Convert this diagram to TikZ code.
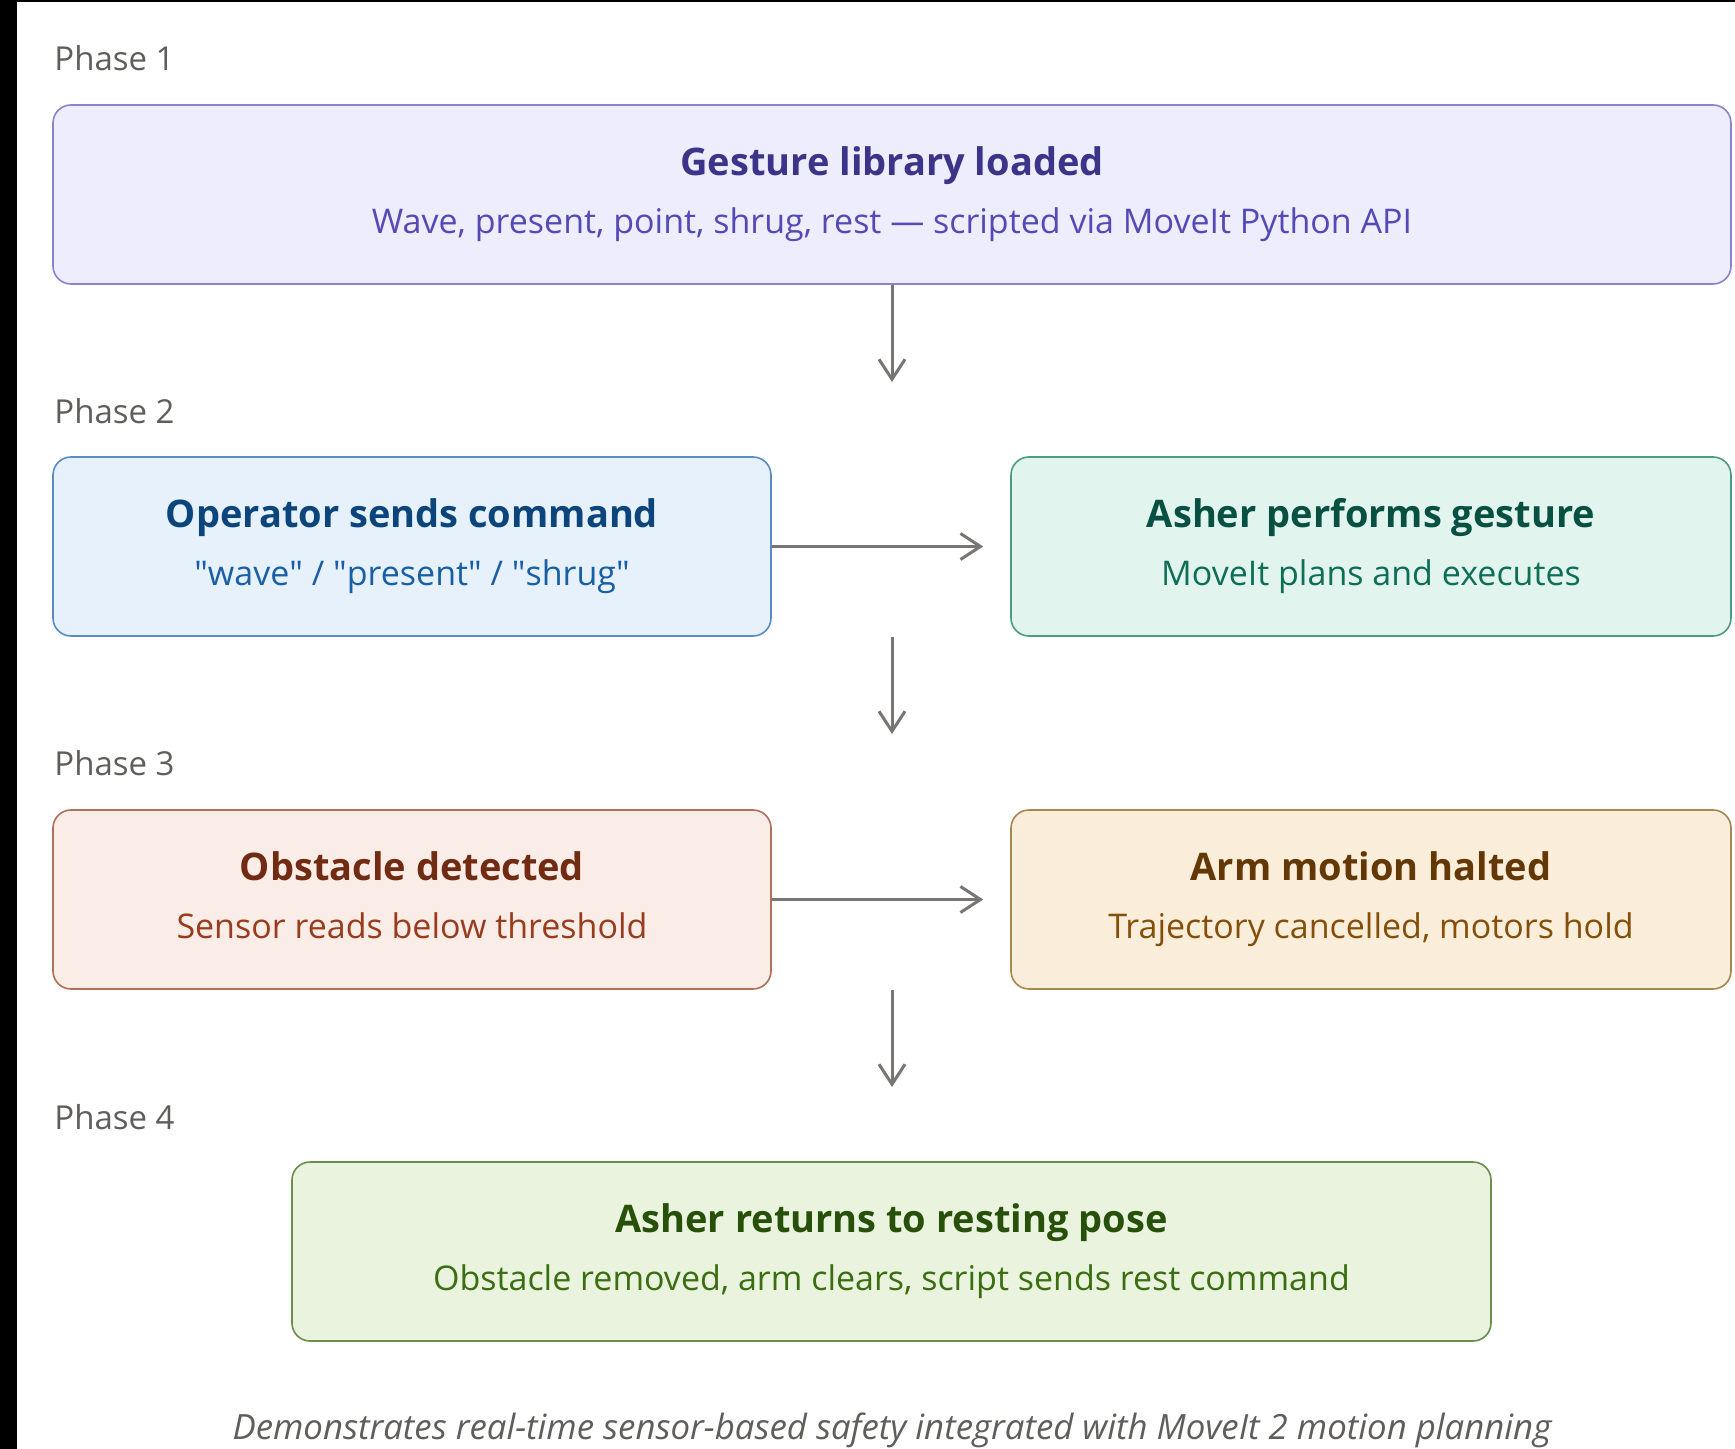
\documentclass[tikz,border=0pt]{standalone}
\usepackage{fontspec}
\setmainfont{Open Sans}
\usetikzlibrary{arrows.meta,positioning}
\usepackage{xcolor}

\definecolor{phasegrey}{HTML}{5F5E5A}
\definecolor{arrowgrey}{HTML}{777672}
\definecolor{gestfill}{HTML}{EEEDFE}
\definecolor{gestline}{HTML}{8A84CF}
\definecolor{gesttitle}{HTML}{3C3489}
\definecolor{gestsub}{HTML}{534AB7}
\definecolor{opfill}{HTML}{E6F1FB}
\definecolor{opline}{HTML}{5A8CC4}
\definecolor{optitle}{HTML}{0C447C}
\definecolor{opsub}{HTML}{185FA5}
\definecolor{perffill}{HTML}{E1F5EE}
\definecolor{perfline}{HTML}{4E9A80}
\definecolor{perftitle}{HTML}{085041}
\definecolor{perfsub}{HTML}{0F6E56}
\definecolor{obsfill}{HTML}{FAECE7}
\definecolor{obsline}{HTML}{B0705A}
\definecolor{obstitle}{HTML}{712B13}
\definecolor{obssub}{HTML}{993C1D}
\definecolor{haltfill}{HTML}{FAEEDA}
\definecolor{haltline}{HTML}{A88650}
\definecolor{halttitle}{HTML}{633806}
\definecolor{haltsub}{HTML}{854F0B}
\definecolor{restfill}{HTML}{EAF3DE}
\definecolor{restline}{HTML}{6A8F4C}
\definecolor{resttitle}{HTML}{27500A}
\definecolor{restsub}{HTML}{3B6D11}

\begin{document}
\begin{tikzpicture}[x=0.5pt, y=-0.5pt,
    stagebox/.style={
        rectangle,
        rounded corners=9pt,
        draw,
        line width=0.8pt,
        align=center,
        minimum height=89.5pt,
        font=\fontsize{17}{29}\selectfont
    },
    phaselabel/.style={
        anchor=west,
        inner sep=0pt,
        text=phasegrey,
        font=\fontsize{16.5}{20}\selectfont
    },
    flowarrow/.style={
        -{Straight Barb[length=10pt,width=13pt]},
        line width=1.5pt,
        arrowgrey
    }
]
    \fill[white] (0,0) rectangle (1735,1449);
    \useasboundingbox (0,0) rectangle (1735,1449);
    \fill[black] (0,0) rectangle (17,1449);
    \fill[black] (0,0) rectangle (1735,2);

    \node (phase_one) [phaselabel, shift={(54,58)}] {Phase 1};
    \node (phase_two) [phaselabel, shift={(54,411)}] {Phase 2};
    \node (phase_three) [phaselabel, shift={(54,763)}] {Phase 3};
    \node (phase_four) [phaselabel, shift={(54,1117)}] {Phase 4};

    \node (gesture) [stagebox, fill=gestfill, draw=gestline, text=gestsub,
        minimum width=839pt, shift={(892,194.5)}]
    {
        {\fontsize{19}{29}\selectfont\bfseries\color{gesttitle}Gesture library loaded\vphantom{Ag}}\\
        Wave, present, point, shrug, rest — scripted via MoveIt Python API\vphantom{Ag}
    };
    \node (operator) [stagebox, fill=opfill, draw=opline, text=opsub,
        minimum width=359pt, shift={(412,546.5)}]
    {
        {\fontsize{19}{29}\selectfont\bfseries\color{optitle}Operator sends command\vphantom{Ag}}\\
        \textquotedbl wave\textquotedbl{} / \textquotedbl present\textquotedbl{} / \textquotedbl shrug\textquotedbl\vphantom{Ag}
    };
    \node (perform) [stagebox, fill=perffill, draw=perfline, text=perfsub,
        minimum width=360pt, shift={(1371,546.5)}]
    {
        {\fontsize{19}{29}\selectfont\bfseries\color{perftitle}Asher performs gesture\vphantom{Ag}}\\
        MoveIt plans and executes\vphantom{Ag}
    };
    \node (obstacle) [stagebox, fill=obsfill, draw=obsline, text=obssub,
        minimum width=359pt, shift={(412,899.5)}]
    {
        {\fontsize{19}{29}\selectfont\bfseries\color{obstitle}Obstacle detected\vphantom{Ag}}\\
        Sensor reads below threshold\vphantom{Ag}
    };
    \node (halted) [stagebox, fill=haltfill, draw=haltline, text=haltsub,
        minimum width=360pt, shift={(1371,899.5)}]
    {
        {\fontsize{19}{29}\selectfont\bfseries\color{halttitle}Arm motion halted\vphantom{Ag}}\\
        Trajectory cancelled, motors hold\vphantom{Ag}
    };
    \node (resting) [stagebox, fill=restfill, draw=restline, text=restsub,
        minimum width=599.5pt, shift={(891.5,1251.5)}]
    {
        {\fontsize{19}{29}\selectfont\bfseries\color{resttitle}Asher returns to resting pose\vphantom{Ag}}\\
        Obstacle removed, arm clears, script sends rest command\vphantom{Ag}
    };

    \node (caption) [anchor=base, inner sep=0pt, text=phasegrey,
        font=\fontsize{17.4}{20}\selectfont\itshape, shift={(892,1439)}]
    {
        Demonstrates real-time sensor-based safety integrated with MoveIt 2 motion planning
    };

    % free ends of the vertical connectors
    \coordinate (gesture_tip) at (892,382);
    \coordinate (row_two_gap) at (892,637);
    \coordinate (row_two_tip) at (892,734);
    \coordinate (row_three_gap) at (892,990);
    \coordinate (row_three_tip) at (892,1087);

    \draw[flowarrow] (gesture) -- (gesture_tip);
    \draw[flowarrow, shorten >=13.5pt] (operator) -- (perform);
    \draw[flowarrow] (row_two_gap) -- (row_two_tip);
    \draw[flowarrow, shorten >=13.5pt] (obstacle) -- (halted);
    \draw[flowarrow] (row_three_gap) -- (row_three_tip);
\end{tikzpicture}
\end{document}
